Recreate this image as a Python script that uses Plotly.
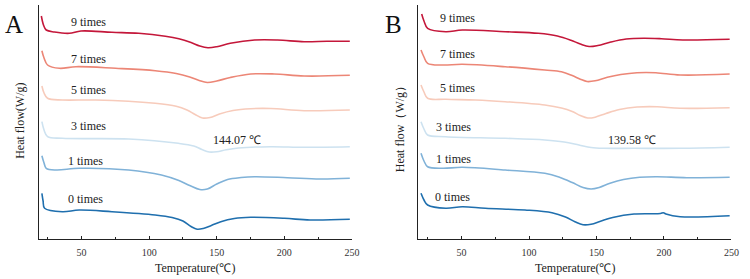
import plotly.graph_objects as go

# ---------------- data (temperature in °C, heat flow in arbitrary offset units) -------------
labels = ["0 times", "1 times", "3 times", "5 times", "7 times", "9 times"]
colors = ["#1f6fae", "#80b2d8", "#cde2f0", "#f7cbbb", "#ec8676", "#c4173a"]

# Panel A
A_T_0 = [20.7, 21.6, 22.7, 35.9, 48.3, 72.5, 104.5, 117.0, 125.0, 131.0, 135.5, 140.0, 146.0, 153.0, 163.0, 175.1, 200.0, 219.0, 248.4]
A_H_0 = [45.7, 38, 30.7, 27.3, 29, 27.3, 24, 21.5, 18, 12.5, 9.8, 10.5, 13.5, 17.3, 20.5, 21.7, 20.7, 19, 19.7]
A_T_1 = [20.7, 22.3, 23.9, 31.2, 48.3, 84.9, 109.1, 122.0, 130.0, 137.5, 143.0, 150.0, 158.0, 168.0, 178.0, 202.2, 226.3, 248.4]
A_H_1 = [83.3, 76, 70.7, 69, 70.7, 69, 64, 58.5, 53.5, 49.5, 50, 55, 59.5, 61.5, 62.3, 61.3, 60, 60.7]
A_T_3 = [20.7, 22.3, 24.9, 35.9, 84.9, 121.6, 133.0, 139.0, 144.5, 150.0, 157.0, 166.0, 189.7, 214.6, 248.4]
A_H_3 = [117.3, 109, 102.3, 100.7, 100, 95.7, 93, 89.5, 87, 87.3, 89.3, 91, 92.3, 91.7, 92.3]
A_T_5 = [20.7, 22.3, 24.9, 35.9, 60.5, 104.5, 120.0, 128.0, 134.0, 139.5, 145.0, 152.0, 162.0, 175.0, 190.0, 214.6, 248.4]
A_H_5 = [153, 146, 140.7, 139, 139, 135.7, 132.8, 129, 124.5, 121, 121.5, 125, 128.5, 130.3, 130.5, 128.3, 129]
A_T_7 = [20.7, 22.3, 24.9, 33.7, 45.9, 75.2, 104.5, 120.0, 130.0, 137.0, 143.0, 150.0, 160.0, 175.1, 192.7, 214.6, 248.4]
A_H_7 = [188.3, 181, 174, 170.7, 172.3, 170.7, 168.3, 165.5, 162, 158.5, 156.5, 158, 161.5, 165, 165, 163, 163.7]
A_T_9 = [20.3, 21.9, 23.9, 30.0, 41.0, 49.6, 72.5, 92.3, 112.0, 122.0, 131.0, 137.5, 143.5, 150.0, 160.0, 178.0, 194.9, 214.6, 231.5, 248.4]
A_H_9 = [223, 214, 209, 207, 205.7, 208, 206.7, 205.7, 202.8, 200.3, 196.5, 193, 191.3, 192.3, 195.7, 199, 199, 197.3, 197.7, 197.7]

# Panel B
B_T_0 = [19.9, 22.1, 24.8, 38.3, 50.5, 67.6, 97.0, 117.0, 127.0, 134.0, 140.0, 146.0, 153.0, 162.0, 177.8, 197.4, 199.5, 201.5, 212.0, 248.7]
B_H_0 = [45.7, 39, 34, 30.7, 32.3, 30.7, 29, 26.3, 22, 17.3, 14.3, 14.8, 17.8, 21.5, 25, 25.5, 26.3, 25.0, 22.3, 23.3]
B_T_1 = [19.9, 22.1, 24.8, 35.8, 50.5, 82.3, 111.7, 123.0, 132.0, 140.0, 146.0, 152.0, 160.0, 170.0, 182.0, 194.9, 216.9, 248.7]
B_H_1 = [85.7, 78, 72.3, 70.7, 71.7, 69, 65.7, 61.5, 56.5, 51.5, 50, 51.5, 55.7, 59.5, 61.8, 62.3, 61.3, 61.7]
B_T_3 = [19.9, 22.1, 24.8, 38.3, 82.3, 111.7, 126.0, 137.0, 146.0, 155.0, 177.8, 212.0, 248.7]
B_H_3 = [117.3, 110, 104, 102.3, 100.7, 99, 97, 94, 91.5, 90.7, 90.7, 90.7, 91.7]
B_T_5 = [19.9, 22.1, 24.8, 38.3, 60.3, 82.3, 111.7, 124.0, 132.0, 138.0, 143.5, 149.0, 157.0, 167.0, 180.0, 195.0, 212.0, 248.7]
B_H_5 = [154, 147, 140.7, 139.7, 139, 137.3, 134, 131, 127.5, 123.5, 121, 121.8, 125.5, 129.5, 132, 132.3, 130.7, 131.3]
B_T_7 = [19.9, 22.1, 24.8, 35.8, 50.5, 82.3, 111.7, 124.0, 132.0, 138.0, 143.0, 149.0, 158.0, 168.0, 180.0, 194.0, 212.0, 248.7]
B_H_7 = [189, 182, 175.7, 174, 174.7, 172.3, 169, 167.3, 163.5, 159.8, 157.5, 158.2, 161.7, 164.5, 166.3, 166.3, 164, 165]
B_T_9 = [20.4, 22.1, 24.8, 38.3, 50.5, 82.3, 106.8, 121.0, 131.0, 138.0, 144.5, 151.0, 160.6, 172.0, 185.0, 198.0, 214.0, 248.7]
B_H_9 = [225, 218, 210.7, 207.3, 209, 207.3, 205.7, 203, 198.8, 195, 192.5, 193.5, 197, 200, 200.8, 200.3, 199, 199.7]

peak_A = "144.07 ℃"
peak_B = "139.58 ℃"
x_ticks = [50, 100, 150, 200, 250]

A_T = [A_T_0, A_T_1, A_T_3, A_T_5, A_T_7, A_T_9]
A_H = [A_H_0, A_H_1, A_H_3, A_H_5, A_H_7, A_H_9]
B_T = [B_T_0, B_T_1, B_T_3, B_T_5, B_T_7, B_T_9]
B_H = [B_H_0, B_H_1, B_H_3, B_H_5, B_H_7, B_H_9]

SERIF = "Liberation Serif"
W, H = 750, 279

fig = go.Figure()
for i in range(6):
    fig.add_trace(go.Scatter(x=A_T[i], y=A_H[i], mode="lines",
                             line=dict(color=colors[i], width=1.6, shape="spline", smoothing=1.0),
                             xaxis="x", yaxis="y", showlegend=False, hoverinfo="skip"))
    fig.add_trace(go.Scatter(x=B_T[i], y=B_H[i], mode="lines",
                             line=dict(color=colors[i], width=1.6, shape="spline", smoothing=1.0),
                             xaxis="x2", yaxis="y2", showlegend=False, hoverinfo="skip"))

def px_x(p):
    return p / W

def px_y(p):
    return (H - p) / H

xcommon = dict(showline=True, linecolor="#222", linewidth=1, mirror=False,
               showgrid=False, zeroline=False, ticks="inside", ticklen=3, tickcolor="#222",
               tickvals=x_ticks, tickfont=dict(family=SERIF, size=10, color="#333"),
               minor=dict(ticks="inside", ticklen=2, dtick=25, tick0=0, tickcolor="#222", showgrid=False),
               ticklabelstandoff=4)
ycommon = dict(range=[0, 234], showline=True, linecolor="#222", linewidth=1,
               showgrid=False, zeroline=False, showticklabels=False, ticks="")

fig.update_layout(
    width=W, height=H, margin=dict(l=0, r=0, t=0, b=0),
    paper_bgcolor="white", plot_bgcolor="white",
    xaxis=dict(xcommon, domain=[px_x(39), px_x(355.3)], range=[18.3, 250], anchor="y"),
    xaxis2=dict(xcommon, domain=[px_x(421.7), px_x(738.3)], range=[17.5, 250], anchor="y2"),
    yaxis=dict(ycommon, domain=[px_y(239), px_y(5)], anchor="x"),
    yaxis2=dict(ycommon, domain=[px_y(239), px_y(5)], anchor="x2"),
)

ann = []
label_pos_A = [(38.6, 40), (38.8, 78.3), (41.0, 113.3), (41.0, 149), (41.0, 180), (41.0, 217)]
label_pos_B = [(28.9, 42.3), (29.7, 79.7), (29.7, 111.7), (32.2, 150.7), (32.2, 185), (32.2, 220.7)]
for i in range(6):
    ann.append(dict(x=label_pos_A[i][0], y=label_pos_A[i][1], xref="x", yref="y", text=labels[i],
                    showarrow=False, xanchor="left", yanchor="middle",
                    font=dict(family=SERIF, size=12, color="#222")))
    ann.append(dict(x=label_pos_B[i][0], y=label_pos_B[i][1], xref="x2", yref="y2", text=labels[i],
                    showarrow=False, xanchor="left", yanchor="middle",
                    font=dict(family=SERIF, size=12, color="#222")))
ann.append(dict(x=145.7, y=99, xref="x", yref="y", text=peak_A, showarrow=False,
                xanchor="left", yanchor="middle", font=dict(family=SERIF, size=12, color="#222")))
ann.append(dict(x=156.7, y=99, xref="x2", yref="y2", text=peak_B, showarrow=False,
                xanchor="left", yanchor="middle", font=dict(family=SERIF, size=12, color="#222")))
# panel letters
ann.append(dict(x=px_x(14), y=px_y(25), xref="paper", yref="paper", text="A", showarrow=False,
                xanchor="center", yanchor="middle", font=dict(family=SERIF, size=25, color="#111")))
ann.append(dict(x=px_x(397), y=px_y(25), xref="paper", yref="paper", text="B", showarrow=False,
                xanchor="center", yanchor="middle", font=dict(family=SERIF, size=25, color="#111")))
# axis titles
ann.append(dict(x=px_x(197), y=px_y(268), xref="paper", yref="paper", text="Temperature(℃)",
                showarrow=False, xanchor="center", yanchor="middle",
                font=dict(family=SERIF, size=12, color="#222")))
ann.append(dict(x=px_x(580), y=px_y(268), xref="paper", yref="paper", text="Temperature(℃)",
                showarrow=False, xanchor="center", yanchor="middle",
                font=dict(family=SERIF, size=12, color="#222")))
ann.append(dict(x=px_x(20), y=px_y(121), xref="paper", yref="paper", text="Heat flow(W/g)",
                showarrow=False, xanchor="center", yanchor="middle", textangle=-90,
                font=dict(family=SERIF, size=12, color="#222")))
ann.append(dict(x=px_x(404), y=px_y(126), xref="paper", yref="paper", text="Heat flow（W/g）",
                showarrow=False, xanchor="center", yanchor="middle", textangle=-90,
                font=dict(family=SERIF, size=12, color="#222")))
fig.update_layout(annotations=ann)

fig.write_html("out.html", config={"displayModeBar": False},
               post_script="document.body.style.margin='0';document.body.style.overflow='hidden';")
